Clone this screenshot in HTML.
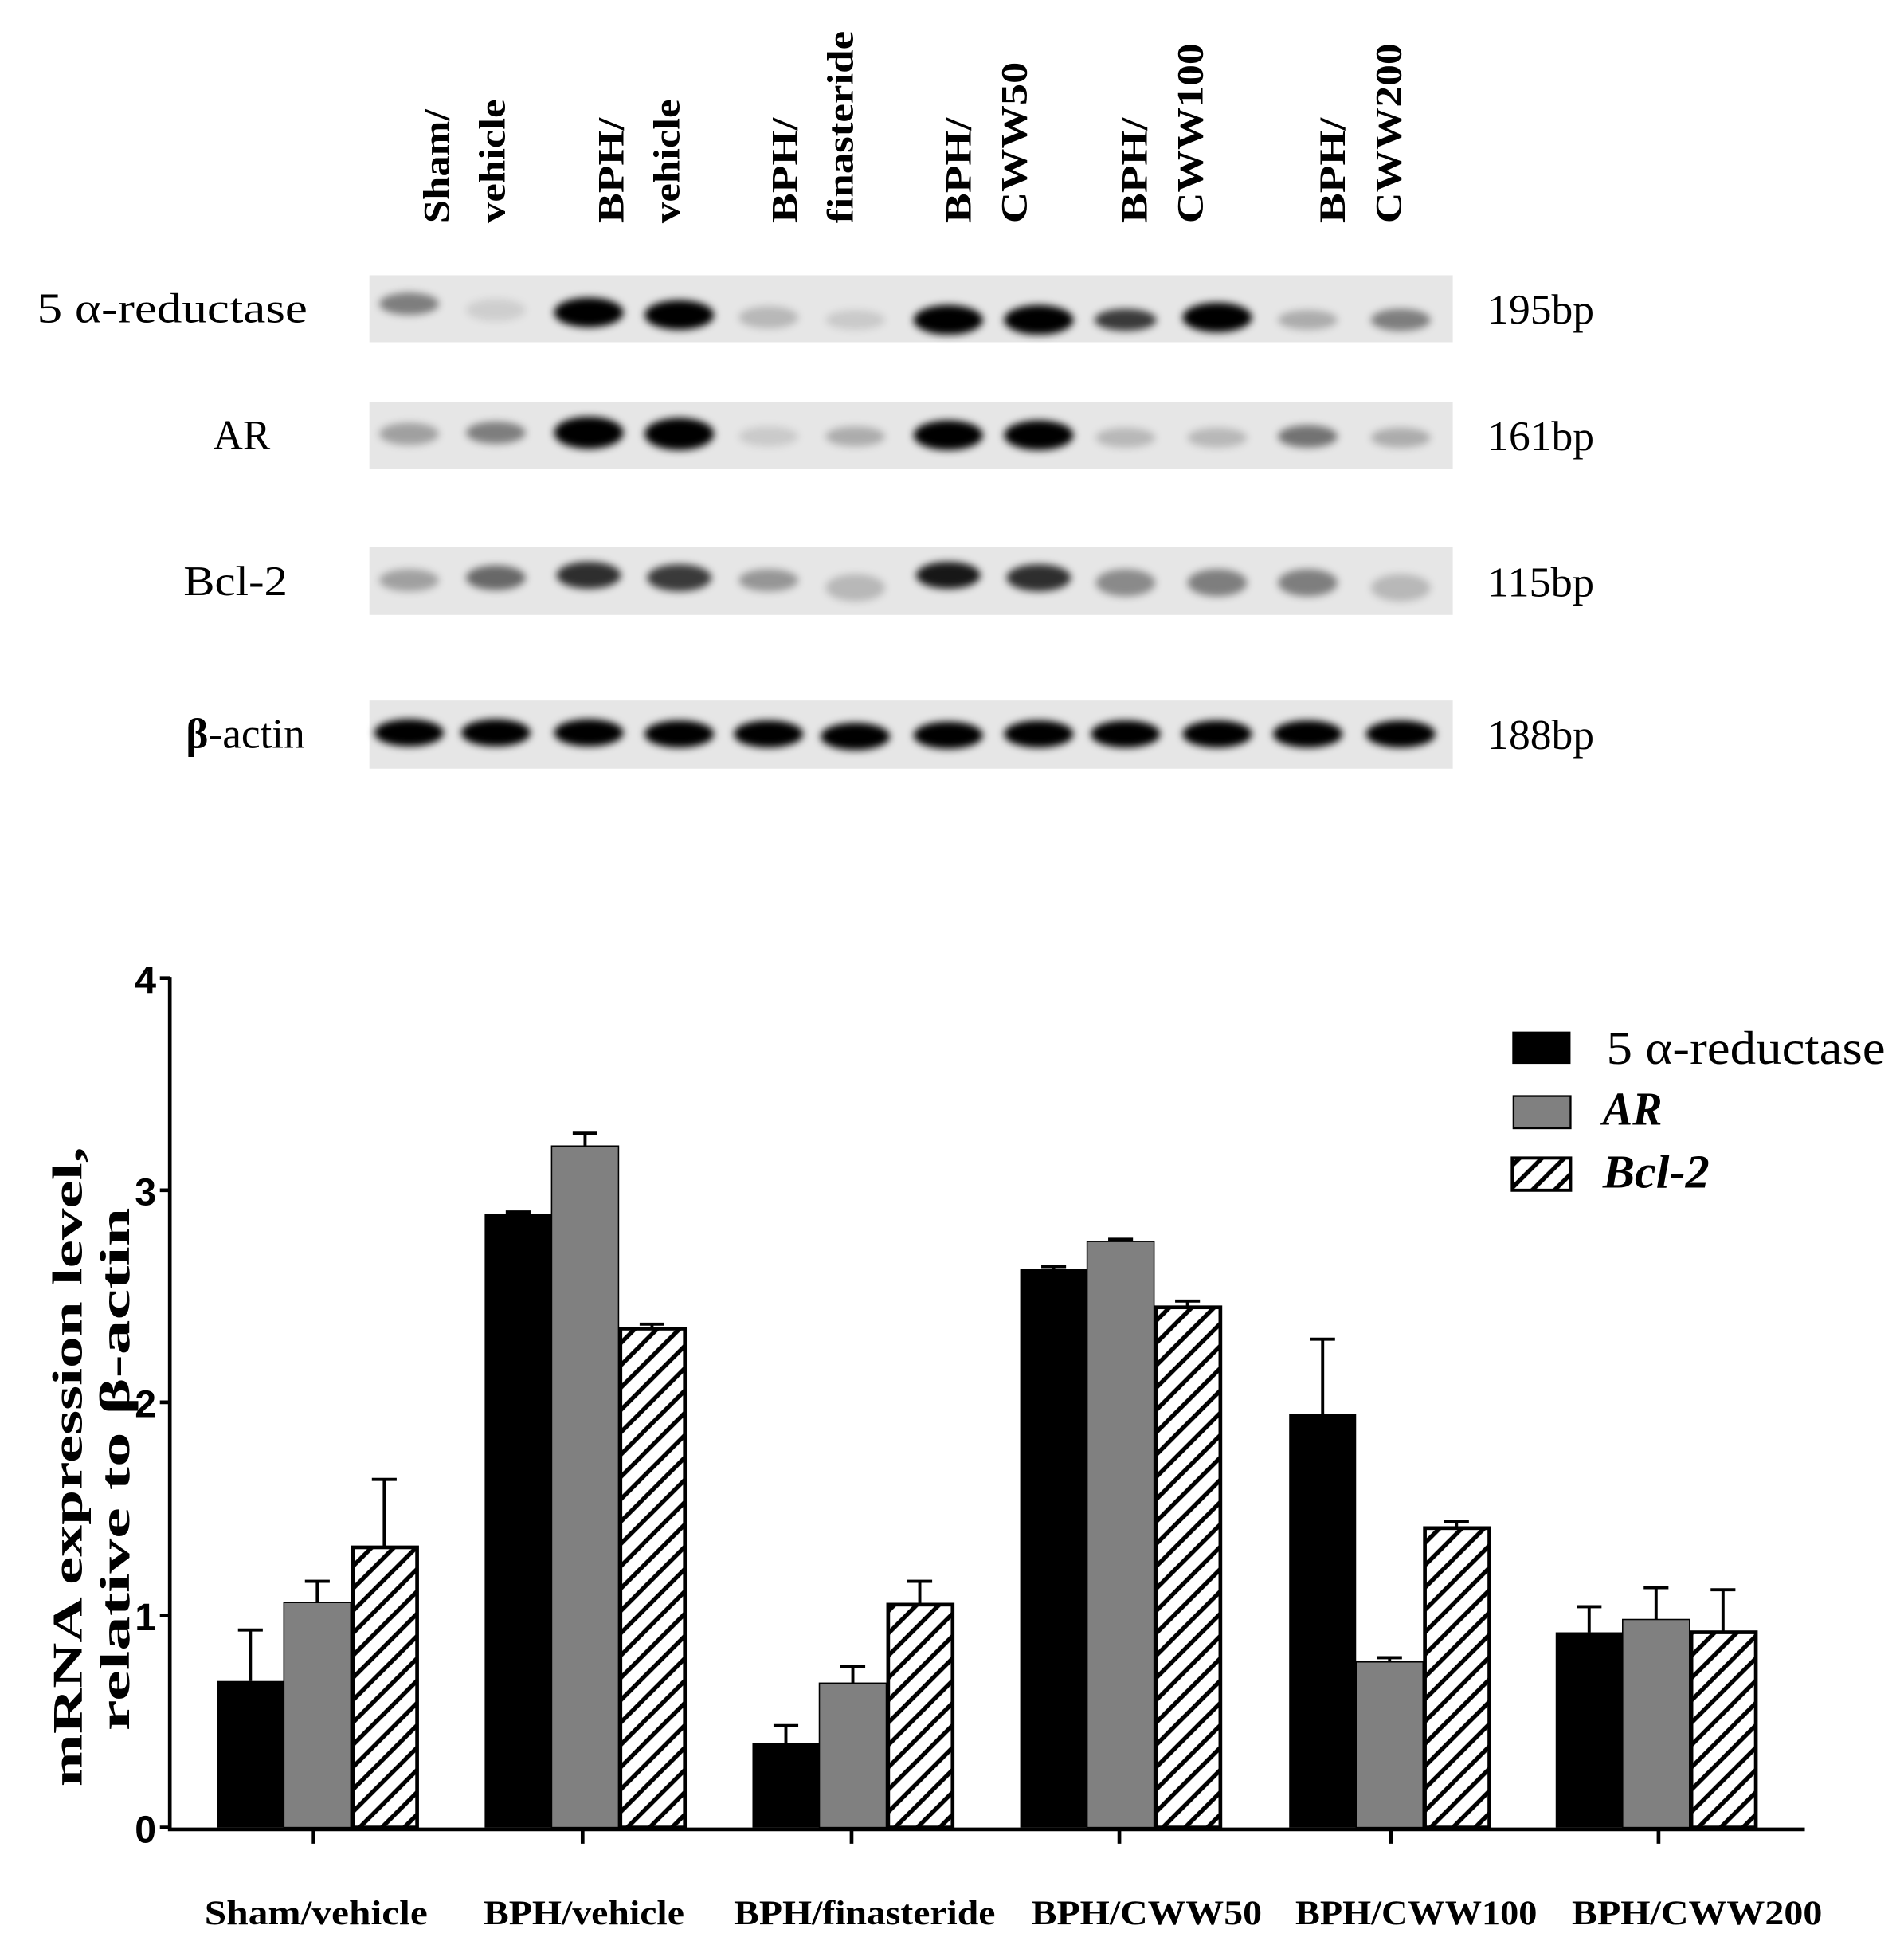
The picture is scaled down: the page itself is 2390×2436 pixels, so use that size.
<!DOCTYPE html>
<html><head><meta charset="utf-8"><style>html,body{margin:0;padding:0;background:#fff}svg{display:block}</style></head>
<body>
<svg width="2390" height="2436" viewBox="0 0 1536 1565.5" preserveAspectRatio="none" xmlns="http://www.w3.org/2000/svg">
<defs>
<filter id="b" x="-50%" y="-100%" width="200%" height="300%"><feGaussianBlur stdDeviation="3"/></filter>
<pattern id="h" patternUnits="userSpaceOnUse" width="18" height="18">
<rect width="18" height="18" fill="#fff"/>
<path d="M-4.5,4.5 L4.5,-4.5 M0,18 L18,0 M13.5,22.5 L22.5,13.5" stroke="#000" stroke-width="3.5"/>
</pattern>
</defs>
<rect width="1536" height="1565.5" fill="#fff"/>
<g font-family="Liberation Serif, serif" font-weight="bold" font-size="30" fill="#000" lengthAdjust="spacingAndGlyphs">
<text transform="translate(362,180) rotate(-90)" textLength="92" lengthAdjust="spacingAndGlyphs">Sham/</text>
<text transform="translate(407,180) rotate(-90)" textLength="100" lengthAdjust="spacingAndGlyphs">vehicle</text>
<text transform="translate(503,180) rotate(-90)" textLength="85" lengthAdjust="spacingAndGlyphs">BPH/</text>
<text transform="translate(548,180) rotate(-90)" textLength="100" lengthAdjust="spacingAndGlyphs">vehicle</text>
<text transform="translate(643,180) rotate(-90)" textLength="85" lengthAdjust="spacingAndGlyphs">BPH/</text>
<text transform="translate(688,180) rotate(-90)" textLength="155" lengthAdjust="spacingAndGlyphs">finasteride</text>
<text transform="translate(783,180) rotate(-90)" textLength="85" lengthAdjust="spacingAndGlyphs">BPH/</text>
<text transform="translate(828,180) rotate(-90)" textLength="130" lengthAdjust="spacingAndGlyphs">CWW50</text>
<text transform="translate(925,180) rotate(-90)" textLength="85" lengthAdjust="spacingAndGlyphs">BPH/</text>
<text transform="translate(970,180) rotate(-90)" textLength="145" lengthAdjust="spacingAndGlyphs">CWW100</text>
<text transform="translate(1085,180) rotate(-90)" textLength="85" lengthAdjust="spacingAndGlyphs">BPH/</text>
<text transform="translate(1130,180) rotate(-90)" textLength="145" lengthAdjust="spacingAndGlyphs">CWW200</text>
</g>
<rect x="298" y="222" width="874" height="54" fill="#e6e6e6"/>
<rect x="298" y="324" width="874" height="54" fill="#e6e6e6"/>
<rect x="298" y="441" width="874" height="55" fill="#e6e6e6"/>
<rect x="298" y="565" width="874" height="55" fill="#e6e6e6"/>
<g filter="url(#b)" fill="#000">
<ellipse cx="330" cy="245" rx="24" ry="9" opacity="0.45"/>
<ellipse cx="400" cy="250" rx="24" ry="9" opacity="0.1"/>
<ellipse cx="475" cy="252" rx="28" ry="12" opacity="1"/>
<ellipse cx="548" cy="254" rx="28" ry="12" opacity="1"/>
<ellipse cx="620" cy="256" rx="24" ry="9" opacity="0.2"/>
<ellipse cx="690" cy="258" rx="24" ry="8" opacity="0.12"/>
<ellipse cx="765" cy="258" rx="28" ry="12" opacity="1"/>
<ellipse cx="838" cy="258" rx="28" ry="12" opacity="1"/>
<ellipse cx="908" cy="258" rx="25" ry="9" opacity="0.75"/>
<ellipse cx="982" cy="256" rx="28" ry="12" opacity="1"/>
<ellipse cx="1055" cy="258" rx="24" ry="8" opacity="0.25"/>
<ellipse cx="1130" cy="258" rx="24" ry="9" opacity="0.45"/>
<ellipse cx="330" cy="350" rx="24" ry="9" opacity="0.3"/>
<ellipse cx="400" cy="349" rx="24" ry="9" opacity="0.45"/>
<ellipse cx="475" cy="349" rx="28" ry="13" opacity="1"/>
<ellipse cx="548" cy="350" rx="28" ry="13" opacity="1"/>
<ellipse cx="620" cy="352" rx="24" ry="8" opacity="0.12"/>
<ellipse cx="690" cy="352" rx="24" ry="8" opacity="0.25"/>
<ellipse cx="765" cy="351" rx="28" ry="12" opacity="1"/>
<ellipse cx="838" cy="351" rx="28" ry="12" opacity="1"/>
<ellipse cx="908" cy="353" rx="24" ry="8" opacity="0.2"/>
<ellipse cx="982" cy="353" rx="24" ry="8" opacity="0.2"/>
<ellipse cx="1055" cy="352" rx="24" ry="9" opacity="0.5"/>
<ellipse cx="1130" cy="353" rx="24" ry="8" opacity="0.25"/>
<ellipse cx="330" cy="468" rx="24" ry="9" opacity="0.3"/>
<ellipse cx="400" cy="466" rx="24" ry="10" opacity="0.55"/>
<ellipse cx="475" cy="464" rx="26" ry="11" opacity="0.8"/>
<ellipse cx="548" cy="466" rx="26" ry="11" opacity="0.75"/>
<ellipse cx="620" cy="468" rx="24" ry="9" opacity="0.35"/>
<ellipse cx="690" cy="474" rx="24" ry="11" opacity="0.2"/>
<ellipse cx="765" cy="464" rx="26" ry="11" opacity="0.9"/>
<ellipse cx="838" cy="466" rx="26" ry="11" opacity="0.8"/>
<ellipse cx="908" cy="470" rx="24" ry="11" opacity="0.4"/>
<ellipse cx="982" cy="470" rx="24" ry="11" opacity="0.45"/>
<ellipse cx="1055" cy="470" rx="24" ry="11" opacity="0.45"/>
<ellipse cx="1130" cy="474" rx="24" ry="11" opacity="0.2"/>
</g>
<g filter="url(#b)" fill="#000">
<ellipse cx="330" cy="591" rx="28" ry="11"/><ellipse cx="400" cy="591" rx="28" ry="11"/>
<ellipse cx="475" cy="591" rx="28" ry="11"/><ellipse cx="548" cy="592" rx="28" ry="11"/>
<ellipse cx="620" cy="592" rx="28" ry="11"/><ellipse cx="690" cy="594" rx="28" ry="11"/>
<ellipse cx="765" cy="593" rx="28" ry="11"/><ellipse cx="838" cy="592" rx="28" ry="11"/>
<ellipse cx="908" cy="592" rx="28" ry="11"/><ellipse cx="982" cy="592" rx="28" ry="11"/>
<ellipse cx="1055" cy="592" rx="28" ry="11"/><ellipse cx="1130" cy="592" rx="28" ry="11"/>
</g>
<g font-family="Liberation Serif, serif" font-size="34" fill="#000">
<text x="30" y="260" textLength="218" lengthAdjust="spacingAndGlyphs">5 α-reductase</text>
<text x="172" y="362" textLength="46" lengthAdjust="spacingAndGlyphs">AR</text>
<text x="148" y="480" textLength="84" lengthAdjust="spacingAndGlyphs">Bcl-2</text>
<text x="150" y="603" textLength="96" lengthAdjust="spacingAndGlyphs"><tspan font-weight="bold">β</tspan>-actin</text>
<text x="1200" y="261" textLength="86" lengthAdjust="spacingAndGlyphs">195bp</text>
<text x="1200" y="363" textLength="86" lengthAdjust="spacingAndGlyphs">161bp</text>
<text x="1200" y="481" textLength="86" lengthAdjust="spacingAndGlyphs">115bp</text>
<text x="1200" y="604" textLength="86" lengthAdjust="spacingAndGlyphs">188bp</text>
</g>
<g fill="#000">
<rect x="175" y="1355.8" width="54" height="118.2"/>
<rect x="391" y="979.1" width="54" height="494.9"/>
<rect x="607" y="1405.5" width="54" height="68.5"/>
<rect x="823" y="1023.6" width="54" height="450.4"/>
<rect x="1040" y="1140.1" width="54" height="333.9"/>
<rect x="1255" y="1316.5" width="54" height="157.5"/>
</g>
<g fill="#808080" stroke="#000" stroke-width="1">
<rect x="229" y="1292.5" width="54" height="181.5"/>
<rect x="445" y="924.3" width="54" height="549.7"/>
<rect x="661" y="1357.5" width="54" height="116.5"/>
<rect x="877" y="1001.3" width="54" height="472.7"/>
<rect x="1094" y="1340.4" width="54" height="133.6"/>
<rect x="1309" y="1306.2" width="54" height="167.8"/>
</g>
<g fill="url(#h)" stroke="#000" stroke-width="3">
<rect x="284.5" y="1248" width="52" height="226"/>
<rect x="500.5" y="1071.6" width="52" height="402.4"/>
<rect x="716.5" y="1294.2" width="52" height="179.8"/>
<rect x="932.5" y="1054.4" width="52" height="419.6"/>
<rect x="1149.5" y="1232.5" width="52" height="241.5"/>
<rect x="1364.5" y="1316.5" width="52" height="157.5"/>
</g>
<g stroke="#000" stroke-width="2.5" fill="none">
<path d="M202,1355.8V1314.7M192,1314.7H212"/>
<path d="M256,1292.5V1275.4M246,1275.4H266"/>
<path d="M310,1248V1193.2M300,1193.2H320"/>
<path d="M418,979.1V977.5M408,977.5H428"/>
<path d="M472,924.3V914M462,914H482"/>
<path d="M526,1071.6V1068M516,1068H536"/>
<path d="M634,1405.5V1391.8M624,1391.8H644"/>
<path d="M688,1357.5V1343.9M678,1343.9H698"/>
<path d="M742,1294.2V1275.4M732,1275.4H752"/>
<path d="M850,1023.6V1021.5M840,1021.5H860"/>
<path d="M904,1001.3V999.5M894,999.5H914"/>
<path d="M958,1054.4V1049.3M948,1049.3H968"/>
<path d="M1067,1140.1V1080.1M1057,1080.1H1077"/>
<path d="M1121,1340.4V1337M1111,1337H1131"/>
<path d="M1175,1232.5V1227.4M1165,1227.4H1185"/>
<path d="M1282,1316.5V1295.9M1272,1295.9H1292"/>
<path d="M1336,1306.2V1280.5M1326,1280.5H1346"/>
<path d="M1390,1316.5V1282.2M1380,1282.2H1400"/>
</g>
<g stroke="#000" stroke-width="3" fill="none">
<path d="M137,788V1475.5H1456"/>
<path d="M129,789H137M129,960H137M129,1131H137M129,1303H137M129,1474H137"/>
<path d="M253,1474V1487M470,1474V1487M687,1474V1487M903,1474V1487M1122,1474V1487M1338,1474V1487"/>
</g>
<g font-family="Liberation Sans, sans-serif" font-weight="bold" font-size="31" text-anchor="end" fill="#000">
<text x="126" y="801">4</text><text x="126" y="972">3</text><text x="126" y="1143">2</text><text x="126" y="1315">1</text><text x="126" y="1486">0</text>
</g>
<g font-family="Liberation Serif, serif" font-weight="bold" font-size="34" fill="#000">
<text transform="translate(66,1441) rotate(-90)" textLength="516" lengthAdjust="spacingAndGlyphs">mRNA expression level,</text>
<text transform="translate(104,1396) rotate(-90)" textLength="422" lengthAdjust="spacingAndGlyphs">relative to β-actin</text>
</g>
<g font-family="Liberation Serif, serif" font-weight="bold" font-size="28" fill="#000">
<text x="165" y="1552" textLength="180" lengthAdjust="spacingAndGlyphs">Sham/vehicle</text>
<text x="390" y="1552" textLength="162" lengthAdjust="spacingAndGlyphs">BPH/vehicle</text>
<text x="592" y="1552" textLength="211" lengthAdjust="spacingAndGlyphs">BPH/finasteride</text>
<text x="832" y="1552" textLength="186" lengthAdjust="spacingAndGlyphs">BPH/CWW50</text>
<text x="1045" y="1552" textLength="195" lengthAdjust="spacingAndGlyphs">BPH/CWW100</text>
<text x="1268" y="1552" textLength="202" lengthAdjust="spacingAndGlyphs">BPH/CWW200</text>
</g>
<rect x="1220" y="832" width="47" height="26" fill="#000"/>
<rect x="1221" y="884" width="46" height="26" fill="#808080" stroke="#000" stroke-width="1.5"/>
<rect x="1220" y="934" width="47" height="26" fill="url(#h)" stroke="#000" stroke-width="2.5"/>
<g font-family="Liberation Serif, serif" font-size="38" fill="#000">
<text x="1296" y="858" textLength="225" lengthAdjust="spacingAndGlyphs">5 α-reductase</text>
<text x="1293" y="907" font-style="italic" font-weight="bold" textLength="48" lengthAdjust="spacingAndGlyphs">AR</text>
<text x="1293" y="958" font-style="italic" font-weight="bold" textLength="86" lengthAdjust="spacingAndGlyphs">Bcl-2</text>
</g>
</svg>
</body></html>
